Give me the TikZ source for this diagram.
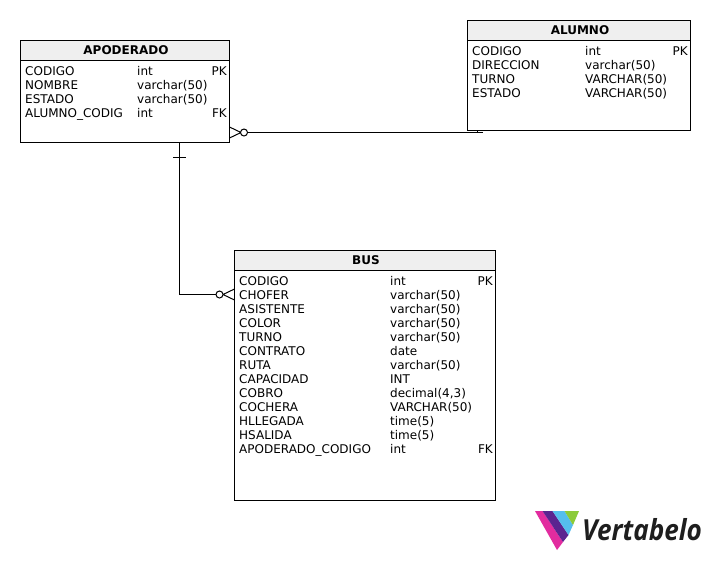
\documentclass[tikz,border=0pt]{standalone}
\usepackage{fontspec}
\setmainfont{DejaVu Sans}
\newfontfamily\logofont[FakeStretch=0.9]{Open Sans}
\definecolor{headfill}{HTML}{EFEFEF}
\definecolor{vpink}{HTML}{E22C9F}
\definecolor{vpurple}{HTML}{5B2490}
\definecolor{vblue}{HTML}{55BEEE}
\definecolor{vgreen}{HTML}{8CCB3A}
\definecolor{vtext}{HTML}{1E1E1E}
\tikzset{
  x=1pt,y=-1pt,
  tablebody/.style={draw=black,fill=white,line width=1pt,rectangle,inner sep=0pt,outer sep=0pt,anchor=north west},
  tablehead/.style={draw=black,fill=headfill,line width=1pt,rectangle,inner sep=0pt,outer sep=0pt,anchor=north west,font=\fontsize{12}{14}\selectfont\bfseries},
  col/.style={anchor=north west,inner sep=0pt,align=left,font=\fontsize{12}{14}\selectfont},
  colr/.style={anchor=north east,inner sep=0pt,align=right,font=\fontsize{12}{14}\selectfont},
  rel/.style={draw=black,line width=1pt},
}
\begin{document}
\begin{tikzpicture}
\useasboundingbox (0,0) rectangle (710,560);
\fill[white] (0,0) rectangle (710,560);
% APODERADO
\node[tablebody,minimum width=209pt,minimum height=102pt] (apobody) at (20.5,40.5) {};
\node[tablehead,minimum width=209pt,minimum height=20pt] (apohead) at (20.5,40.5) {\hspace*{2pt}APODERADO};
\node[col] (apo1) at (25,66.5) {CODIGO\\NOMBRE\\ESTADO\\ALUMNO\_CODIG};
\node[col] (apo2) at (137,66.5) {int\\varchar(50)\\varchar(50)\\int};
\node[colr] (apo3) at (227,66.5) {PK\\\\\\FK};
% ALUMNO
\node[tablebody,minimum width=223pt,minimum height=110pt] (alubody) at (467.5,20.5) {};
\node[tablehead,minimum width=223pt,minimum height=20pt] (aluhead) at (467.5,20.5) {\hspace*{2pt}ALUMNO};
\node[col] (alu1) at (472,46.5) {CODIGO\\DIRECCION\\TURNO\\ESTADO};
\node[col] (alu2) at (585,46.5) {int\\varchar(50)\\VARCHAR(50)\\VARCHAR(50)};
\node[colr] (alu3) at (688,46.5) {PK};
% BUS
\node[tablebody,minimum width=261pt,minimum height=250pt] (busbody) at (234.5,250.5) {};
\node[tablehead,minimum width=261pt,minimum height=20pt] (bushead) at (234.5,250.5) {\hspace*{2pt}BUS};
\node[col] (bus1) at (239,276.5) {CODIGO\\CHOFER\\ASISTENTE\\COLOR\\TURNO\\CONTRATO\\RUTA\\CAPACIDAD\\COBRO\\COCHERA\\HLLEGADA\\HSALIDA\\APODERADO\_CODIGO};
\node[col] (bus2) at (390,276.5) {int\\varchar(50)\\varchar(50)\\varchar(50)\\varchar(50)\\date\\varchar(50)\\INT\\decimal(4,3)\\VARCHAR(50)\\time(5)\\time(5)\\int};
\node[colr] (bus3) at (493,276.5) {PK\\\\\\\\\\\\\\\\\\\\\\\\FK};
% APODERADO -- ALUMNO
\coordinate (a1) at (apobody.south east |- 0,132.5);
\coordinate (ac) at (244,132.5);
\draw[rel] (ac) ++(3.5,0) -- (477.5,132.5) -- (alubody.south west -| 477.5,0);
\draw[rel] (470,132.5) -- (483,132.5);
\draw[rel] (a1 |- 0,127) -- (241,132.5) -- (a1 |- 0,138);
\draw[rel,fill=white] (ac) circle (3.5);
% APODERADO -- BUS
\coordinate (b1) at (apobody.south west -| 179.5,0);
\coordinate (b2) at (busbody.north west |- 0,294.5);
\coordinate (bc) at (219.5,294.5);
\draw[rel] (b1) -- (179.5,294.5) -- (bc);
\draw[rel] (173,157.5) -- (186,157.5);
\draw[rel] (b2 |- 0,289) -- (223,294.5) -- (b2 |- 0,300);
\draw[rel,fill=white] (bc) circle (3.5);
% Logo
\fill[vpink] (535,511) -- (542.5,511) -- (563,542) -- (557,550) -- cycle;
\fill[vpurple] (542.5,511) -- (552.5,511) -- (568.5,535) -- (563,542) -- cycle;
\fill[vblue] (552.5,511) -- (564.5,511) -- (573,525) -- (568.5,535) -- cycle;
\fill[vgreen] (564.5,511) -- (579,511) -- (573,525) -- cycle;
\node[anchor=base west,inner sep=0pt,text=vtext,font=\logofont\fontsize{29}{30}\selectfont\bfseries\itshape] (logo) at (582,540.5) {Vertabelo};
\end{tikzpicture}
\end{document}
